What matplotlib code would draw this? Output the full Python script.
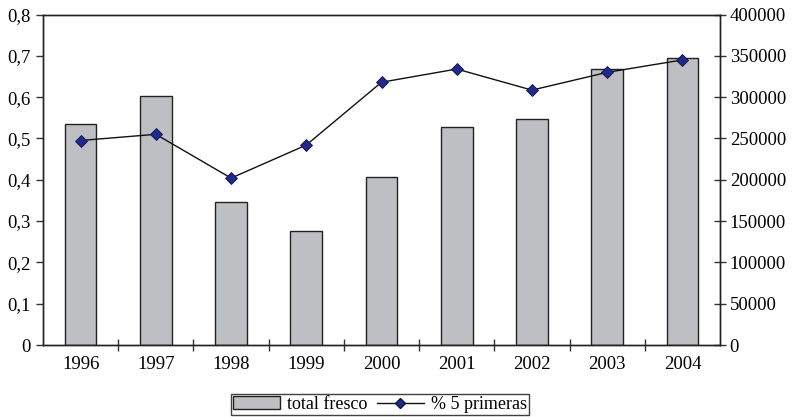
import numpy as np
import matplotlib.pyplot as plt
from matplotlib.patches import Patch
from matplotlib.lines import Line2D

years = ['1996', '1997', '1998', '1999', '2000', '2001', '2002', '2003', '2004']
total_fresco = [267800, 301000, 172700, 138000, 203700, 264200, 273900, 334000, 347000]
pct_5_primeras = [0.495, 0.510, 0.404, 0.484, 0.636, 0.668, 0.617, 0.660, 0.690]

plt.rcParams['font.family'] = ['Liberation Serif', 'DejaVu Serif']
plt.rcParams['font.size'] = 13.5

fig = plt.figure(figsize=(7.92, 4.18), dpi=100)
ax = fig.add_axes([43 / 792, 1 - 345 / 418, 677 / 792, 330.5 / 418])
ax2 = ax.twinx()

x = np.arange(len(years))
ax2.bar(x, total_fresco, width=0.42, color='#bebfc3', edgecolor='#222222', linewidth=1.0, zorder=1)
ax2.set_ylim(0, 400000)
ax2.set_yticks(np.arange(0, 400001, 50000))

ax.set_zorder(ax2.get_zorder() + 1)
ax.patch.set_visible(False)
ax.plot(x, pct_5_primeras, color='#111111', linewidth=1.0, marker='D', markersize=6.5,
        markerfacecolor='#1f2a8a', markeredgecolor='#111144', markeredgewidth=0.6)
ax.set_ylim(0, 0.8)
ax.set_yticks(np.arange(0, 0.81, 0.1))
ax.set_yticklabels(['0'] + [f'0,{i}' for i in range(1, 9)])
ax.set_xlim(-0.5, len(years) - 0.5)
ax.set_xticks(x)
ax.set_xticklabels(years)
ax.set_xticks(np.arange(0.5, len(years) - 0.5, 1), minor=True)
ax.tick_params(axis='x', which='major', length=0, pad=8)
ax.tick_params(axis='x', which='minor', direction='inout', length=8, width=1, color='#333333')
ax.tick_params(axis='y', direction='out', length=5, width=1, color='#333333', pad=4)
ax2.tick_params(axis='y', direction='inout', length=8, width=1, color='#333333', pad=3)

for a in (ax, ax2):
    for s in a.spines.values():
        s.set_linewidth(1.0)
        s.set_color('#222222')

handles = [Patch(facecolor='#bebfc3', edgecolor='#222222', linewidth=1.0),
           Line2D([0], [0], color='#111111', linewidth=1.0, marker='D', markersize=5,
                  markerfacecolor='#1f2a8a', markeredgecolor='#111144')]
leg = fig.legend(handles, ['total fresco', '% 5 primeras'], loc='center',
                 bbox_to_anchor=(380 / 792, 1 - 404.5 / 418), ncol=2, frameon=True,
                 fancybox=False, edgecolor='#111111', handlelength=2.6, handleheight=0.7,
                 columnspacing=0.5, handletextpad=0.4, borderpad=0.1, fontsize=13)
leg.get_frame().set_linewidth(1.0)

fig.savefig('out.png', dpi=100)
